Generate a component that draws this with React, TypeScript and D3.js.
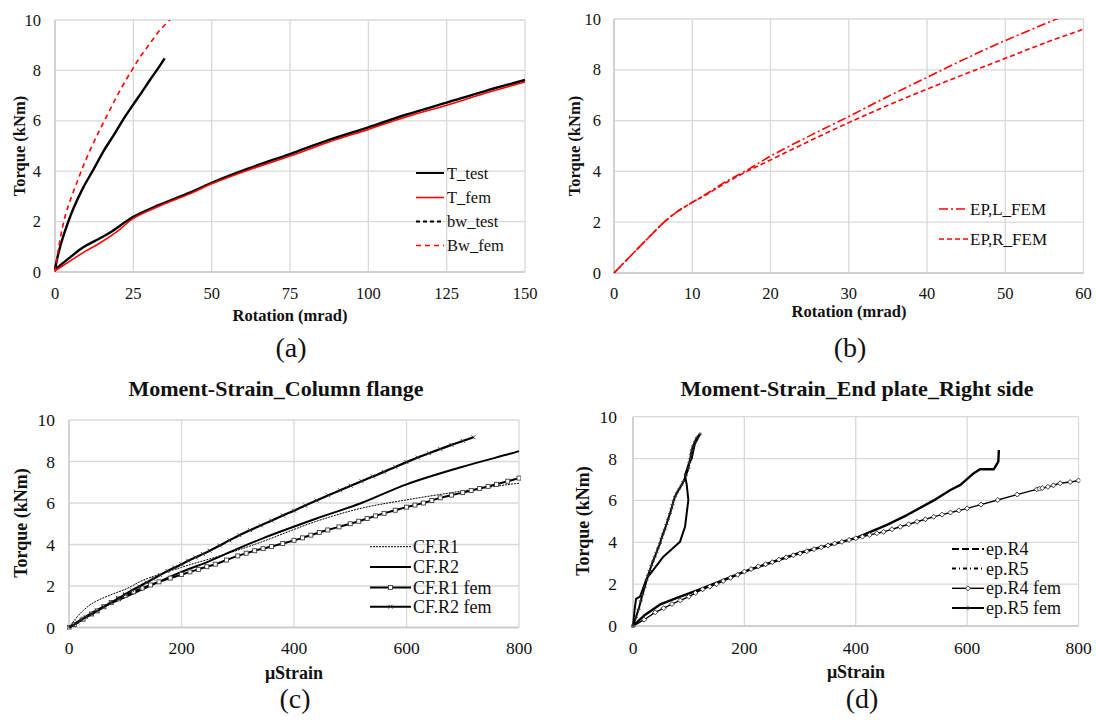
import React from 'react';
import * as d3 from 'd3';

type P = [number, number];

// ---------- Panel (a) ----------
const aXTicks = [0, 25, 50, 75, 100, 125, 150];
const aYTicks = [0, 2, 4, 6, 8, 10];
const aTTest: P[] = [[0, 0.1], [2, 0.3], [5, 0.6], [9, 0.98], [13.3, 1.27], [18, 1.6], [25, 2.19], [33, 2.65], [43, 3.15], [50, 3.54], [62, 4.12], [75, 4.68], [87, 5.22], [100, 5.74], [112, 6.24], [125, 6.72], [137, 7.17], [150, 7.62]];
const aTFem: P[] = [[0, 0.05], [5, 0.45], [10, 0.85], [13.3, 1.07], [20, 1.62], [25, 2.13], [33, 2.6], [43, 3.1], [50, 3.5], [62, 4.06], [75, 4.6], [87, 5.14], [100, 5.66], [112, 6.15], [125, 6.62], [137, 7.08], [150, 7.54]];
const aBwTest: P[] = [[0, 0.1], [1, 0.7], [2.6, 1.4], [5.8, 2.5], [9, 3.35], [12.2, 4.05], [15.5, 4.8], [19.1, 5.5], [22, 6.1], [24.9, 6.63], [27.5, 7.1], [30.3, 7.62], [33, 8.1], [35, 8.48]];
const aBwFem: P[] = [[0, 0], [1.5, 1.2], [3.2, 2.2], [5, 2.9], [6.9, 3.52], [9, 4.2], [11.7, 4.97], [14.5, 5.7], [17.5, 6.43], [20.5, 7.15], [23.9, 7.88], [27, 8.5], [30.3, 9.07], [33.5, 9.6], [37, 10.05]];

// ---------- Panel (b) ----------
const bXTicks = [0, 10, 20, 30, 40, 50, 60];
const bYTicks = [0, 2, 4, 6, 8, 10];
const bEpL: P[] = [[0, 0], [3, 0.95], [6.4, 2.0], [8, 2.4], [10, 2.78], [12, 3.15], [14, 3.55], [17, 4.05], [20, 4.6], [25, 5.4], [30, 6.16], [35, 6.95], [40, 7.7], [45, 8.45], [50, 9.15], [55, 9.8], [57, 10.05]];
const bEpR: P[] = [[0, 0], [3, 0.95], [6.4, 2.0], [8, 2.4], [10, 2.78], [12, 3.12], [14, 3.5], [17, 4.0], [20, 4.45], [25, 5.2], [30, 5.92], [35, 6.6], [40, 7.24], [45, 7.85], [50, 8.45], [55, 9.05], [60, 9.6]];

// ---------- Panel (c) ----------
const cXTicks = [0, 200, 400, 600, 800];
const cYTicks = [0, 2, 4, 6, 8, 10];
const cR1: P[] = [[0, 0], [20, 0.68], [43, 1.19], [73, 1.56], [103, 1.88], [132, 2.28], [200, 2.9], [280, 3.55], [340, 4.1], [440, 5.12], [520, 5.75], [600, 6.15], [700, 6.58], [784, 6.9], [800, 6.95]];
const cR2: P[] = [[0, 0], [50, 0.85], [103, 1.5], [200, 2.68], [250, 3.2], [300, 3.8], [340, 4.25], [440, 5.25], [520, 6.0], [600, 6.9], [700, 7.75], [784, 8.37], [800, 8.5]];
const cR1Fem: P[] = [[0, 0], [10, 0.15], [25, 0.4], [40, 0.65], [50, 0.8], [62, 1.0], [75, 1.2], [88, 1.38], [100, 1.55], [115, 1.72], [130, 1.9], [145, 2.05], [160, 2.2], [180, 2.38], [200, 2.55], [215, 2.68], [230, 2.8], [245, 2.93], [260, 3.05], [280, 3.25], [300, 3.45], [315, 3.58], [330, 3.7], [345, 3.8], [360, 3.9], [380, 4.05], [400, 4.2], [415, 4.32], [430, 4.45], [445, 4.58], [460, 4.7], [480, 4.85], [500, 5.0], [515, 5.12], [530, 5.25], [545, 5.38], [560, 5.5], [580, 5.65], [600, 5.8], [615, 5.9], [630, 6.0], [645, 6.12], [660, 6.25], [680, 6.38], [700, 6.5], [715, 6.6], [730, 6.7], [745, 6.8], [760, 6.9], [780, 7.05], [800, 7.2]];
const cR2Fem: P[] = [[0, 0], [8, 0.12], [15, 0.25], [22, 0.37], [30, 0.5], [40, 0.65], [50, 0.8], [62, 1.0], [75, 1.2], [88, 1.4], [100, 1.6], [112, 1.8], [125, 1.98], [138, 2.17], [150, 2.35], [162, 2.53], [175, 2.72], [188, 2.89], [200, 3.05], [212, 3.22], [225, 3.38], [238, 3.54], [250, 3.7], [268, 3.95], [285, 4.2], [303, 4.45], [322, 4.69], [341, 4.92], [360, 5.15], [380, 5.4], [400, 5.63], [420, 5.88], [440, 6.12], [461, 6.37], [482, 6.61], [501, 6.83], [520, 7.05], [540, 7.28], [560, 7.5], [580, 7.74], [600, 7.97], [620, 8.19], [640, 8.4], [660, 8.6], [680, 8.8], [700, 8.99], [719, 9.17]];

// ---------- Panel (d) ----------
const dXTicks = [0, 200, 400, 600, 800];
const dYTicks = [0, 2, 4, 6, 8, 10];
const dR4: P[] = [[0, 0], [20, 0.5], [50, 1.05], [80, 1.35], [120, 1.75], [200, 2.6], [300, 3.5], [400, 4.2], [456, 4.83], [492, 5.3], [540, 6.0], [570, 6.5], [588, 6.74], [612, 7.3], [623, 7.49], [648, 7.49], [656, 7.85], [657, 8.41]];
const dR5: P[] = [[0, 0], [3, 0.8], [5.4, 1.3], [12.6, 1.4], [24.6, 2.28], [36.5, 2.68], [54.5, 3.31], [84.5, 4.03], [93.4, 4.74], [99.4, 6.02], [96.5, 6.74], [93.4, 7.21], [99.4, 7.69], [105.5, 8.01], [111, 8.7], [120, 9.15]];
const dR4Fem: P[] = [[0, 0], [20, 0.3], [40, 0.65], [55, 0.85], [70, 1.05], [85, 1.22], [100, 1.4], [112, 1.58], [125, 1.75], [138, 1.88], [150, 2.0], [162, 2.15], [175, 2.3], [188, 2.45], [200, 2.6], [212, 2.72], [225, 2.85], [238, 2.95], [250, 3.05], [262, 3.17], [275, 3.28], [288, 3.38], [300, 3.47], [312, 3.57], [325, 3.67], [338, 3.76], [350, 3.85], [362, 3.94], [375, 4.02], [388, 4.11], [400, 4.19], [412, 4.27], [425, 4.35], [438, 4.43], [450, 4.5], [465, 4.62], [480, 4.74], [495, 4.86], [510, 4.98], [525, 5.1], [540, 5.22], [555, 5.32], [570, 5.42], [585, 5.52], [600, 5.62], [625, 5.8], [655, 6.02], [690, 6.28], [725, 6.53], [730, 6.56], [735, 6.59], [745, 6.65], [755, 6.72], [767, 6.82], [785, 6.88], [800, 6.95]];
const dR5Fem: P[] = [[0, 0], [5, 0.4], [10, 0.8], [14, 1.2], [17, 1.5], [21, 1.85], [24.6, 2.2], [27, 2.42], [30, 2.65], [33, 2.88], [36, 3.1], [39, 3.3], [42, 3.5], [45, 3.72], [48.5, 3.95], [51, 4.18], [54, 4.4], [57, 4.62], [60, 4.85], [63, 5.1], [66.5, 5.38], [69, 5.6], [71, 5.8], [73, 6.0], [75.5, 6.18], [79, 6.37], [83, 6.55], [87, 6.73], [90.4, 6.9], [95, 7.2], [99.4, 7.53], [101, 7.8], [103, 8.0], [104, 8.2], [105.5, 8.41], [108, 8.6], [111.4, 8.81], [115, 9.0], [120.4, 9.17]];

const FONT = 'Liberation Serif, Times New Roman, Times, serif';
const GRID = '#d9d9d9';

type Marker = 'square' | 'x' | 'diamond' | 'plus';
interface Series {
  name: string;
  data: P[];
  color: string;
  width: number;
  dash?: string;
  legendDash?: string;
  marker?: Marker;
  markerSize?: number;
  curve?: 'smooth' | 'linear';
}
interface Legend { x1: number; x2: number; tx: number; ys: number[]; font: number; }
interface PanelProps {
  id: string;
  left: number; right: number; top: number; bottom: number;
  xDomain: [number, number]; yDomain: [number, number];
  xTicks: number[]; yTicks: number[];
  tickFont: number; tickGap: number; xTickY: number;
  xTitle: string; xTitleX: number; xTitleY: number;
  yTitle: string; yTitleX: number; yTitleY: number; titleFont: number;
  title?: string; titleX?: number; titleY?: number;
  caption: string; captionX: number; captionY: number;
  legend: Legend;
  series: Series[];
}

function MarkerShape({ type, x, y, s }: { type: Marker; x: number; y: number; s: number }) {
  const h = s / 2;
  if (type === 'square') return <rect x={x - h} y={y - h} width={s} height={s} fill="#fff" stroke="#404040" strokeWidth={0.9} />;
  if (type === 'diamond') return <path d={`M${x},${y - h}L${x + h},${y}L${x},${y + h}L${x - h},${y}Z`} fill="#fff" stroke="#222" strokeWidth={0.9} />;
  if (type === 'x') return <path d={`M${x - h},${y - h}L${x + h},${y + h}M${x - h},${y + h}L${x + h},${y - h}`} stroke="#333" strokeWidth={0.9} />;
  return <path d={`M${x - h},${y}L${x + h},${y}M${x},${y - h}L${x},${y + h}`} stroke="#333" strokeWidth={0.9} />;
}

function Panel(p: PanelProps) {
  const x = d3.scaleLinear().domain(p.xDomain).range([p.left, p.right]);
  const y = d3.scaleLinear().domain(p.yDomain).range([p.bottom, p.top]);
  const clipId = `clip-${p.id}`;
  const ts = { fontFamily: FONT } as React.CSSProperties;
  return (
    <g>
      <defs>
        <clipPath id={clipId}>
          <rect x={p.left - 2} y={p.top} width={p.right - p.left + 4} height={p.bottom - p.top + 2} />
        </clipPath>
      </defs>
      {p.yTicks.map((t) => (
        <line key={`gy${t}`} x1={p.left} x2={p.right} y1={y(t)} y2={y(t)} stroke={GRID} strokeWidth={1.3} />
      ))}
      {p.xTicks.map((t) => (
        <line key={`gx${t}`} x1={x(t)} x2={x(t)} y1={p.top} y2={p.bottom} stroke={GRID} strokeWidth={1.3} />
      ))}
      <line x1={p.left} x2={p.right} y1={p.bottom} y2={p.bottom} stroke="#c8c8c8" strokeWidth={1.3} />
      <line x1={p.left} x2={p.left} y1={p.top} y2={p.bottom} stroke="#c8c8c8" strokeWidth={1.3} />
      <g clipPath={`url(#${clipId})`}>
        {p.series.map((s) => {
          const gen = d3.line<P>().x((d) => x(d[0])).y((d) => y(d[1]))
            .curve(s.curve === 'linear' ? d3.curveLinear : d3.curveCatmullRom.alpha(0.5));
          return (
            <g key={s.name}>
              <path d={gen(s.data) || ''} fill="none" stroke={s.color} strokeWidth={s.width}
                strokeDasharray={s.dash} strokeLinejoin="round" strokeLinecap="butt" />
              {s.marker && s.data.map((d, i) => (
                <MarkerShape key={i} type={s.marker as Marker} x={x(d[0])} y={y(d[1])} s={s.markerSize || 4} />
              ))}
            </g>
          );
        })}
      </g>
      {p.yTicks.map((t) => (
        <text key={`ty${t}`} x={p.left - p.tickGap} y={y(t)} textAnchor="end" dominantBaseline="central"
          style={ts} fontSize={p.tickFont} fill="#111">{t}</text>
      ))}
      {p.xTicks.map((t) => (
        <text key={`tx${t}`} x={x(t)} y={p.xTickY} textAnchor="middle" dominantBaseline="central"
          style={ts} fontSize={p.tickFont} fill="#111">{t}</text>
      ))}
      <text x={p.xTitleX} y={p.xTitleY} textAnchor="middle" dominantBaseline="central" style={ts}
        fontWeight="bold" fontSize={p.titleFont} fill="#111">{p.xTitle}</text>
      <text transform={`translate(${p.yTitleX},${p.yTitleY}) rotate(-90)`} textAnchor="middle" dominantBaseline="central"
        style={ts} fontWeight="bold" fontSize={p.titleFont} fill="#111">{p.yTitle}</text>
      {p.title && (
        <text x={p.titleX} y={p.titleY} textAnchor="middle" dominantBaseline="central" style={ts}
          fontWeight="bold" fontSize={22} fill="#111">{p.title}</text>
      )}
      <text x={p.captionX} y={p.captionY} textAnchor="middle" dominantBaseline="central" style={ts}
        fontSize={28} fill="#111">{p.caption}</text>
      {p.series.map((s, i) => {
        const ly = p.legend.ys[i];
        return (
          <g key={`lg${s.name}`}>
            <line x1={p.legend.x1} x2={p.legend.x2} y1={ly} y2={ly} stroke={s.color} strokeWidth={Math.min(s.width, 2)}
              strokeDasharray={s.legendDash !== undefined ? s.legendDash : s.dash} />
            {s.marker && <MarkerShape type={s.marker} x={(p.legend.x1 + p.legend.x2) / 2} y={ly} s={s.markerSize || 4} />}
            <text x={p.legend.tx} y={ly} dominantBaseline="central" style={ts} fontSize={p.legend.font} fill="#111">{s.name}</text>
          </g>
        );
      })}
    </g>
  );
}

export default function App() {
  const panels: PanelProps[] = [
    {
      id: 'a', left: 55, right: 525, top: 20, bottom: 272,
      xDomain: [0, 150], yDomain: [0, 10], xTicks: aXTicks, yTicks: aYTicks,
      tickFont: 16.5, tickGap: 14, xTickY: 293,
      xTitle: 'Rotation (mrad)', xTitleX: 290, xTitleY: 315,
      yTitle: 'Torque (kNm)', yTitleX: 19, yTitleY: 146, titleFont: 16.5,
      caption: '(a)', captionX: 291, captionY: 347,
      legend: { x1: 416, x2: 444, tx: 447, ys: [173, 197.5, 221.5, 245.5], font: 16.5 },
      series: [
        { name: 'T_test', data: aTTest, color: '#000', width: 2.4 },
        { name: 'T_fem', data: aTFem, color: '#ff0000', width: 1.6 },
        { name: 'bw_test', data: aBwTest, color: '#000', width: 2.4, legendDash: '4,3' },
        { name: 'Bw_fem', data: aBwFem, color: '#ff0000', width: 1.6, dash: '5,4' },
      ],
    },
    {
      id: 'b', left: 614, right: 1083.5, top: 19, bottom: 273,
      xDomain: [0, 60], yDomain: [0, 10], xTicks: bXTicks, yTicks: bYTicks,
      tickFont: 16.5, tickGap: 13, xTickY: 293,
      xTitle: 'Rotation (mrad)', xTitleX: 849, xTitleY: 311,
      yTitle: 'Torque (kNm)', yTitleX: 574, yTitleY: 146, titleFont: 16.5,
      caption: '(b)', captionX: 850, captionY: 347,
      legend: { x1: 939, x2: 968, tx: 970, ys: [209, 239], font: 17 },
      series: [
        { name: 'EP,L_FEM', data: bEpL, color: '#ff0000', width: 1.6, dash: '9,3,2,3' },
        { name: 'EP,R_FEM', data: bEpR, color: '#ff0000', width: 1.6, dash: '5,3' },
      ],
    },
    {
      id: 'c', left: 69, right: 519, top: 420, bottom: 627.5,
      xDomain: [0, 800], yDomain: [0, 10], xTicks: cXTicks, yTicks: cYTicks,
      tickFont: 17.5, tickGap: 14, xTickY: 648,
      xTitle: 'μStrain', xTitleX: 294, xTitleY: 673,
      yTitle: 'Torque (kNm)', yTitleX: 21, yTitleY: 523, titleFont: 18,
      title: 'Moment-Strain_Column flange', titleX: 276, titleY: 388,
      caption: '(c)', captionX: 295, captionY: 698,
      legend: { x1: 370, x2: 411, tx: 413, ys: [546.7, 567, 587.5, 606.7], font: 18 },
      series: [
        { name: 'CF.R1', data: cR1, color: '#000', width: 1, dash: '2,1' },
        { name: 'CF.R2', data: cR2, color: '#000', width: 2 },
        { name: 'CF.R1 fem', data: cR1Fem, color: '#000', width: 2, marker: 'square', markerSize: 4 },
        { name: 'CF.R2 fem', data: cR2Fem, color: '#000', width: 2.2, marker: 'x', markerSize: 4 },
      ],
    },
    {
      id: 'd', left: 633, right: 1078.5, top: 416.7, bottom: 626,
      xDomain: [0, 800], yDomain: [0, 10], xTicks: dXTicks, yTicks: dYTicks,
      tickFont: 17.5, tickGap: 16, xTickY: 648,
      xTitle: 'μStrain', xTitleX: 856, xTitleY: 672,
      yTitle: 'Torque (kNm)', yTitleX: 583, yTitleY: 521, titleFont: 18,
      title: 'Moment-Strain_End plate_Right side', titleX: 857, titleY: 388,
      caption: '(d)', captionX: 862, captionY: 698,
      legend: { x1: 952, x2: 984, tx: 986, ys: [549, 568.5, 588.3, 608], font: 18 },
      series: [
        { name: 'ep.R4', data: dR4, color: '#000', width: 2.4, legendDash: '7,3', curve: 'linear' },
        { name: 'ep.R5', data: dR5, color: '#000', width: 2, legendDash: '4,3,1,3', curve: 'linear' },
        { name: 'ep.R4 fem', data: dR4Fem, color: '#000', width: 1.4, marker: 'diamond', markerSize: 5 },
        { name: 'ep.R5 fem', data: dR5Fem, color: '#000', width: 2, marker: 'plus', markerSize: 4 },
      ],
    },
  ];
  return (
    <svg width={1096} height={722} viewBox="0 0 1096 722"
      style={{ position: 'absolute', left: 0, top: 0, background: '#fff', fontFamily: FONT }}>
      <rect x={0} y={0} width={1096} height={722} fill="#fff" />
      {panels.map((p) => <Panel key={p.id} {...p} />)}
    </svg>
  );
}
